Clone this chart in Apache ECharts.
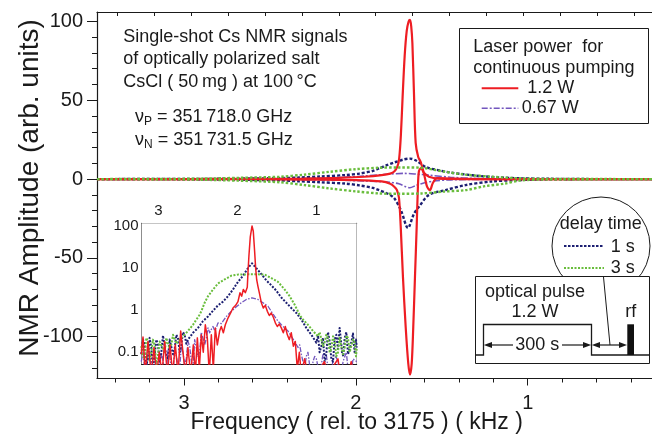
<!DOCTYPE html>
<html><head><meta charset="utf-8">
<script src="https://cdn.jsdelivr.net/npm/echarts/dist/echarts.min.js"></script>
<style>html,body{margin:0;padding:0;background:#fff}#c{width:652px;height:437px}</style>
</head><body><div id="c"></div><script>
// ---------- main plot data: [frequency kHz, amplitude] ----------
const redUp = [[3.506,0],[2.6,0.1],[2.3,0.3],[2.1,0.8],[1.95,1.5],[1.85,2.5],[1.8,3.5],[1.775,5],[1.758,8],[1.748,13],[1.738,28],[1.728,52],[1.716,78],[1.704,94],[1.693,100],[1.685,101],[1.678,97],[1.671,86],[1.662,55],[1.652,23],[1.637,14],[1.623,11],[1.604,3.6],[1.585,-5],[1.569,-7],[1.552,-2.5],[1.527,0.6],[1.45,0.3],[1.2,0],[0.277,0]];
const redDown = [[3.506,0],[2.6,-0.1],[2.3,-0.3],[2.0,-0.6],[1.85,-1.5],[1.8,-3],[1.775,-5],[1.761,-7],[1.749,-12],[1.739,-30],[1.726,-62],[1.71,-94],[1.695,-117],[1.685,-124],[1.675,-117],[1.666,-94],[1.656,-62],[1.646,-30],[1.639,-5],[1.633,5],[1.621,7],[1.604,4],[1.575,1.5],[1.517,0.3],[1.3,0],[0.277,0]];
const navyUp = [[3.506,0],[2.9,0.1],[2.7,0.3],[2.445,0.6],[2.33,1],[2.21,1.6],[2.056,2.6],[1.98,3.5],[1.9,5.2],[1.865,6.8],[1.82,8.8],[1.778,10.5],[1.72,12.5],[1.685,13],[1.645,11.5],[1.592,7.6],[1.517,5.6],[1.442,4],[1.36,2.9],[1.285,2],[1.17,1.1],[1.053,0.5],[0.88,0.2],[0.6,0],[0.277,0]];
const navyDown = [[3.506,0],[2.9,-0.1],[2.7,-0.4],[2.445,-0.8],[2.33,-1.4],[2.21,-2],[2.056,-2.9],[1.98,-4],[1.9,-5.6],[1.865,-7],[1.82,-9],[1.778,-12],[1.737,-20],[1.697,-31],[1.662,-22],[1.633,-17.6],[1.575,-10],[1.478,-7],[1.362,-3.8],[1.21,-1.5],[1.053,-0.6],[0.88,-0.2],[0.6,0],[0.277,0]];
const greenUp = [[3.506,0],[3.1,0.1],[2.9,0.3],[2.68,0.8],[2.445,1.5],[2.3,2.8],[2.155,4.6],[2.0,6.3],[1.865,7.2],[1.75,7.4],[1.616,7.2],[1.55,6],[1.478,4.6],[1.362,2.8],[1.21,1.5],[1.053,0.5],[0.88,0.1],[0.277,0]];
const greenDown = [[3.506,0],[3.1,-0.1],[2.9,-0.4],[2.68,-1],[2.445,-2],[2.3,-3.8],[2.155,-5.9],[2.0,-7.8],[1.865,-9.1],[1.75,-9.3],[1.616,-9.1],[1.5,-8],[1.362,-7],[1.25,-4.5],[1.13,-2.8],[1.053,-1],[0.88,-0.2],[0.277,0]];
const purpleUp = [[3.506,0],[2.4,0.3],[2.1,1],[1.95,2],[1.8,3.2],[1.72,3.6],[1.65,3.2],[1.575,2.5],[1.45,1.2],[1.3,0.4],[1.1,0],[0.277,0]];
const purpleDown = [[3.506,0],[2.4,-0.2],[2.1,-0.7],[1.95,-1.2],[1.8,-2],[1.75,-3],[1.71,-4.8],[1.685,-5.5],[1.65,-4],[1.605,-2.5],[1.545,-1.2],[1.45,-0.5],[1.2,-0.1],[0.277,0]];

// ---------- inset data (log magnitude) ----------
const insetRed = [[3.218,0.09],[3.196,0.23],[3.167,0.03],[3.133,0.18],[3.091,0.03],[3.057,0.13],[3.023,0.03],[2.99,0.1],[2.956,0.03],[2.922,0.18],[2.888,0.03],[2.854,0.15],[2.821,0.03],[2.787,0.15],[2.753,0.03],[2.719,0.32],[2.69,0.1],[2.66,0.03],[2.627,0.13],[2.593,0.03],[2.559,0.15],[2.534,0.03],[2.508,0.22],[2.483,0.04],[2.458,0.26],[2.433,0.1],[2.407,0.45],[2.382,0.22],[2.357,0.03],[2.331,0.26],[2.306,0.04],[2.281,0.38],[2.255,0.15],[2.226,0.32],[2.205,0.41],[2.179,0.29],[2.154,0.45],[2.12,0.65],[2.087,0.86],[2.057,1.13],[2.023,1.3],[1.994,1.6],[1.968,2.6],[1.947,2.15],[1.926,3.1],[1.901,2.6],[1.876,3.5],[1.867,8],[1.855,20],[1.838,55],[1.816,100],[1.8,75],[1.783,25],[1.77,10],[1.757,5.3],[1.741,3.7],[1.72,2.4],[1.698,1.5],[1.673,1.13],[1.648,1.3],[1.622,0.94],[1.597,0.75],[1.572,0.86],[1.546,0.68],[1.521,0.5],[1.496,0.41],[1.471,0.47],[1.445,0.38],[1.42,0.29],[1.395,0.41],[1.369,0.26],[1.344,0.2],[1.319,0.29],[1.293,0.14],[1.268,0.18],[1.243,0.04],[1.217,0.1],[1.192,0.03],[1.15,0.07],[1.11,0.03],[1.0,0.03],[0.9,0.06],[0.85,0.03],[0.728,0.07],[0.7,0.03],[0.6,0.03],[0.56,0.06],[0.53,0.03],[0.49,0.03]];
const insetNavy = [[3.218,0.09],[3.196,0.2],[3.175,0.15],[3.154,0.05],[3.133,0.07],[3.112,0.22],[3.091,0.13],[3.07,0.04],[3.049,0.04],[3.027,0.2],[3.006,0.15],[2.985,0.06],[2.964,0.1],[2.943,0.25],[2.922,0.24],[2.901,0.08],[2.88,0.07],[2.859,0.2],[2.838,0.18],[2.816,0.09],[2.795,0.12],[2.774,0.26],[2.753,0.22],[2.732,0.1],[2.711,0.15],[2.69,0.3],[2.669,0.26],[2.648,0.16],[2.627,0.2],[2.563,0.29],[2.5,0.38],[2.437,0.55],[2.373,0.71],[2.31,0.97],[2.247,1.3],[2.183,1.6],[2.12,2.15],[2.057,3.1],[1.994,4.7],[1.93,6.6],[1.867,10],[1.816,13],[1.762,10],[1.698,7.2],[1.635,5.1],[1.572,3.9],[1.508,2.9],[1.445,2.0],[1.382,1.5],[1.319,1.13],[1.255,0.86],[1.192,0.6],[1.129,0.38],[1.065,0.26],[1.002,0.17],[0.981,0.25],[0.96,0.1],[0.939,0.14],[0.918,0.22],[0.897,0.06],[0.876,0.09],[0.854,0.3],[0.833,0.18],[0.812,0.07],[0.791,0.06],[0.77,0.2],[0.749,0.26],[0.728,0.12],[0.707,0.38],[0.685,0.15],[0.677,0.1],[0.66,0.08],[0.643,0.22],[0.622,0.3],[0.601,0.09],[0.58,0.12],[0.559,0.17],[0.538,0.28],[0.517,0.1],[0.5,0.2],[0.49,0.13]];
const insetGreen = [[3.218,0.14],[3.196,0.08],[3.175,0.07],[3.154,0.22],[3.133,0.18],[3.112,0.06],[3.091,0.1],[3.07,0.2],[3.049,0.15],[3.027,0.05],[3.006,0.09],[2.985,0.18],[2.964,0.17],[2.943,0.12],[2.922,0.1],[2.901,0.22],[2.88,0.2],[2.859,0.12],[2.838,0.15],[2.816,0.26],[2.795,0.24],[2.774,0.16],[2.753,0.18],[2.69,0.24],[2.627,0.32],[2.563,0.45],[2.521,0.6],[2.492,0.71],[2.458,0.94],[2.416,1.5],[2.373,2.15],[2.31,3.1],[2.247,4.3],[2.162,5.4],[2.078,6.6],[1.994,7.0],[1.867,7.1],[1.741,7.1],[1.656,7.0],[1.572,5.8],[1.487,4.7],[1.403,3.1],[1.34,2.15],[1.276,1.35],[1.213,0.77],[1.171,0.6],[1.108,0.45],[1.044,0.32],[0.981,0.24],[0.96,0.3],[0.939,0.29],[0.918,0.14],[0.897,0.17],[0.876,0.26],[0.854,0.22],[0.833,0.1],[0.812,0.12],[0.791,0.24],[0.77,0.18],[0.749,0.08],[0.728,0.1],[0.707,0.22],[0.685,0.2],[0.664,0.09],[0.643,0.13],[0.622,0.25],[0.601,0.22],[0.58,0.1],[0.559,0.1],[0.538,0.2],[0.517,0.17],[0.5,0.08],[0.49,0.12]];
const insetPurple = [[3.218,0.06],[3.196,0.1],[3.175,0.04],[3.154,0.03],[3.133,0.09],[3.112,0.11],[3.091,0.04],[3.07,0.03],[3.049,0.08],[3.027,0.08],[3.006,0.03],[2.985,0.04],[2.964,0.1],[2.943,0.1],[2.922,0.04],[2.901,0.03],[2.88,0.11],[2.859,0.09],[2.838,0.04],[2.816,0.03],[2.795,0.13],[2.774,0.12],[2.753,0.05],[2.732,0.04],[2.711,0.14],[2.69,0.1],[2.669,0.05],[2.648,0.07],[2.627,0.18],[2.605,0.14],[2.584,0.06],[2.563,0.04],[2.542,0.2],[2.521,0.18],[2.5,0.08],[2.479,0.1],[2.458,0.3],[2.437,0.29],[2.415,0.15],[2.394,0.22],[2.373,0.38],[2.352,0.29],[2.331,0.35],[2.31,0.41],[2.289,0.33],[2.268,0.38],[2.247,0.5],[2.226,0.45],[2.205,0.48],[2.183,0.55],[2.141,0.71],[2.078,0.94],[2.015,1.2],[1.951,1.5],[1.888,1.8],[1.816,1.95],[1.741,1.8],[1.677,1.5],[1.614,1.24],[1.572,0.94],[1.53,0.71],[1.487,0.55],[1.445,0.45],[1.403,0.38],[1.361,0.32],[1.319,0.24],[1.276,0.18],[1.234,0.13],[1.213,0.15],[1.192,0.09],[1.171,0.06],[1.15,0.04],[1.129,0.08],[1.108,0.1],[1.087,0.05],[1.065,0.03],[1.044,0.06],[1.023,0.08],[1.002,0.07],[0.96,0.03],[0.939,0.05],[0.918,0.09],[0.876,0.09],[0.854,0.04],[0.812,0.03],[0.791,0.07],[0.749,0.08],[0.728,0.04],[0.685,0.03],[0.664,0.06],[0.622,0.1],[0.601,0.04],[0.559,0.03],[0.538,0.07],[0.49,0.06]];

// ---------- ticks / labels ----------
const xMajor = [1, 2, 3];
const xMinor = [0.4,0.6,0.8,1.2,1.4,1.6,1.8,2.2,2.4,2.6,2.8,3.2,3.4];
const xTop = [3.386,3.172,2.957,2.743,2.528,2.314,2.099,1.885,1.670,1.456,1.241,1.027,0.812,0.598,0.383];
const yMajor = [-100,-50,0,50,100];
const yMinor = [-120,-110,-90,-80,-70,-60,-40,-30,-20,-10,10,20,30,40,60,70,80,90];
const insetXLabels = [1, 2, 3];
const insetXTicks = [0.6,0.8,1.0,1.2,1.4,1.6,1.8,2.0,2.2,2.4,2.6,2.8,3.0,3.2];
const insetYMajor = [0.1, 1, 10, 100];
const insetYMinor = [0.06,0.07,0.08,0.09,0.2,0.3,0.4,0.5,0.6,0.7,0.8,0.9,2,3,4,5,6,7,8,9,20,30,40,50,60,70,80,90];

const FONT = 'Liberation Sans, Arial, Helvetica, sans-serif';
const INK = '#1a1a1a';
const C_RED = '#ee1d23', C_NAVY = '#1c1f72', C_GREEN = '#69bd3c', C_PURPLE = '#7356be';

function T(x, y, text, size, align) {
  return {type:'text', x:x, y:y, z:100, style:{text:text, fontSize:size, fontFamily:FONT, fill:INK,
    textAlign:align||'left', textVerticalAlign:'middle', align:align||'left', verticalAlign:'middle'}};
}
function L(x1,y1,x2,y2,color,w,dash){
  return {type:'line', z:100, shape:{x1:x1,y1:y1,x2:x2,y2:y2}, style:{stroke:color||INK, lineWidth:w||1, lineDash:dash||null}};
}
function P(points){ return {type:'polygon', z:101, shape:{points:points}, style:{fill:INK}}; }
function sub(x, y, main, s, rest){
  return {type:'text', x:x, y:y, z:100, style:{text:'{a|'+main+'}{b|'+s+'}{a|'+rest+'}',
    textAlign:'left', textVerticalAlign:'middle', align:'left', verticalAlign:'middle',
    rich:{a:{fontSize:18, fontFamily:FONT, fill:INK, lineHeight:22, verticalAlign:'middle'},
          b:{fontSize:12, fontFamily:FONT, fill:INK, lineHeight:12, verticalAlign:'bottom'}}}};
}

const axisLineMain = {show:true, onZero:false, lineStyle:{color:INK, width:1.2}};
const axisLineThin = {show:true, onZero:false, lineStyle:{color:INK, width:1}};
const noLine = {show:false, onZero:false};
function mainSeries(data, color, width, type, z){
  return {type:'line', data:data, xAxisIndex:0, yAxisIndex:0, symbol:'none', smooth:0.3, z:z,
    lineStyle:{color:color, width:width, type:type}, animation:false};
}
function insetSeries(data, color, width, type, z){
  return {type:'line', data:data, xAxisIndex:3, yAxisIndex:2, symbol:'none', smooth:false, z:z,
    lineStyle:{color:color, width:width, type:type, join:'round'}, animation:false};
}

const chart = echarts.init(document.getElementById('c'), null, {renderer:'canvas'});
chart.setOption({
  animation:false,
  backgroundColor:'#fff',
  textStyle:{fontFamily:FONT},
  grid:[
    {left:97, top:12, width:557, height:366.5},
    {left:141.5, top:223.3, width:215.2, height:140.7, show:true, backgroundColor:'#fff', borderWidth:0, z:5}
  ],
  xAxis:[
    {gridIndex:0, type:'value', inverse:true, min:0.277, max:3.506, position:'bottom',
     axisLine:axisLineMain, splitLine:{show:false},
     axisTick:{show:true, inside:false, length:7, customValues:xMajor, lineStyle:{color:INK}},
     axisLabel:{customValues:xMajor, fontSize:20, color:INK, margin:15, fontFamily:FONT}},
    {gridIndex:0, type:'value', inverse:true, min:0.277, max:3.506, position:'bottom',
     axisLine:noLine, splitLine:{show:false},
     axisTick:{show:true, inside:false, length:4, customValues:xMinor, lineStyle:{color:INK}},
     axisLabel:{show:false}},
    {gridIndex:0, type:'value', inverse:true, min:0.277, max:3.506, position:'top',
     axisLine:axisLineMain, splitLine:{show:false},
     axisTick:{show:true, inside:true, length:4, customValues:xTop, lineStyle:{color:INK}},
     axisLabel:{show:false}},
    {gridIndex:1, type:'value', inverse:true, min:0.491, max:3.215, position:'top',
     axisLine:axisLineThin, splitLine:{show:false},
     axisTick:{show:true, inside:true, length:3, customValues:insetXTicks, lineStyle:{color:INK}},
     axisLabel:{customValues:insetXLabels, fontSize:15, color:INK, margin:5, fontFamily:FONT}},
    {gridIndex:1, type:'value', inverse:true, min:0.491, max:3.215, position:'bottom',
     axisLine:axisLineThin, splitLine:{show:false},
     axisTick:{show:true, inside:true, length:3, customValues:insetXTicks, lineStyle:{color:INK}},
     axisLabel:{show:false}}
  ],
  yAxis:[
    {gridIndex:0, type:'value', min:-126.5, max:106, position:'left',
     axisLine:axisLineMain, splitLine:{show:false},
     axisTick:{show:true, inside:false, length:10, customValues:yMajor, lineStyle:{color:INK}},
     axisLabel:{customValues:yMajor, fontSize:20, color:INK, margin:14, fontFamily:FONT}},
    {gridIndex:0, type:'value', min:-126.5, max:106, position:'left',
     axisLine:noLine, splitLine:{show:false},
     axisTick:{show:true, inside:false, length:5, customValues:yMinor, lineStyle:{color:INK}},
     axisLabel:{show:false}},
    {gridIndex:1, type:'log', logBase:10, min:0.0527, max:115.9, position:'left',
     axisLine:axisLineThin, splitLine:{show:false},
     axisTick:{show:true, inside:true, length:5, customValues:insetYMajor, lineStyle:{color:INK}},
     axisLabel:{customValues:insetYMajor, fontSize:15, color:INK, margin:3, fontFamily:FONT,
       formatter:function(v){ return String(v); }}},
    {gridIndex:1, type:'log', logBase:10, min:0.0527, max:115.9, position:'left',
     axisLine:noLine, splitLine:{show:false},
     axisTick:{show:true, inside:true, length:3, customValues:insetYMinor, lineStyle:{color:INK}},
     axisLabel:{show:false}},
    {gridIndex:1, type:'log', logBase:10, min:0.0527, max:115.9, position:'right',
     axisLine:axisLineThin, splitLine:{show:false},
     axisTick:{show:true, inside:true, length:5, customValues:insetYMajor, lineStyle:{color:INK}},
     axisLabel:{show:false}},
    {gridIndex:1, type:'log', logBase:10, min:0.0527, max:115.9, position:'right',
     axisLine:noLine, splitLine:{show:false},
     axisTick:{show:true, inside:true, length:3, customValues:insetYMinor, lineStyle:{color:INK}},
     axisLabel:{show:false}}
  ],
  series:[
    mainSeries(purpleUp, C_PURPLE, 1.6, [7,2,2,2], 2),
    mainSeries(purpleDown, C_PURPLE, 1.6, [7,2,2,2], 2),
    mainSeries(navyUp, C_NAVY, 2.4, [3,2], 3),
    mainSeries(navyDown, C_NAVY, 2.4, [3,2], 3),
    mainSeries(redUp, C_RED, 2.2, 'solid', 4),
    mainSeries(redDown, C_RED, 2.2, 'solid', 4),
    mainSeries(greenUp, C_GREEN, 2.4, [2.5,2], 5),
    mainSeries(greenDown, C_GREEN, 2.4, [2.5,2], 5),
    insetSeries(insetPurple, C_PURPLE, 1.3, [5,1.5,1.5,1.5], 10),
    insetSeries(insetNavy, C_NAVY, 2, [2,1.5], 11),
    insetSeries(insetGreen, C_GREEN, 2, [2,1.5], 11),
    insetSeries(insetRed, C_RED, 1.5, 'solid', 12)
  ],
  graphic:{elements:[
    T(356.7, 423, 'Frequency ( rel. to 3175 ) ( kHz )', 23, 'center'),
    Object.assign(T(30, 188, 'NMR Amplitude (arb. units)', 28, 'center'), {rotation:Math.PI/2}),
    T(123.3, 36.7, 'Single-shot Cs NMR signals', 18),
    T(123.3, 59.3, 'of optically polarized salt', 18),
    T(123.3, 81.7, 'CsCl ( 50\u2009mg ) at 100\u2009\u00B0C', 18),
    sub(135, 116.7, '\u03BD', 'P', ' = 351\u2009718.0 GHz'),
    sub(135, 140, '\u03BD', 'N', ' = 351\u2009731.5 GHz'),
    {type:'rect', z:99, shape:{x:459.5, y:28.5, width:189, height:95}, style:{fill:'#fff', stroke:INK, lineWidth:1}},
    T(473.3, 46.7, 'Laser power  for', 18),
    T(473.3, 68.3, 'continuous pumping', 18),
    L(481.7, 88.3, 518.3, 88.3, C_RED, 2),
    T(527.3, 88.3, '1.2 W', 18),
    L(481.7, 108.3, 518.3, 108.3, C_PURPLE, 1.4, [6,2,2,2]),
    T(521.7, 108.3, '0.67 W', 18),
    {type:'circle', z:98, shape:{cx:601, cy:246, r:49}, style:{fill:'#fff', stroke:INK, lineWidth:1}},
    T(600.7, 224.3, 'delay time', 18, 'center'),
    L(564, 246, 604, 246, C_NAVY, 2, [2.5,1.5]),
    T(610.7, 246.7, '1 s', 18),
    L(564, 268, 604, 268, C_GREEN, 2, [2,1.5]),
    T(610.7, 268.3, '3 s', 18),
    {type:'rect', z:99, shape:{x:475.5, y:276.5, width:174, height:87}, style:{fill:'#fff', stroke:INK, lineWidth:1}},
    {type:'polyline', z:100, shape:{points:[[475.5,355],[483.5,355],[483.5,324.5],[591.5,324.5],[591.5,355],[649.5,355]]}, style:{stroke:INK, lineWidth:1.3, fill:null}},
    {type:'rect', z:100, shape:{x:627.3, y:324.3, width:6.7, height:30.7}, style:{fill:'#111'}},
    T(535, 291.7, 'optical pulse', 18, 'center'),
    T(535, 312.3, '1.2 W', 18, 'center'),
    T(630.7, 312.3, 'rf', 18, 'center'),
    T(537.3, 345, '300 s', 18, 'center'),
    L(490, 345, 513, 345, INK, 1.2),
    L(562, 345, 585, 345, INK, 1.2),
    P([[483.8,345],[492,342],[492,348]]),
    P([[591.2,345],[583,342],[583,348]]),
    L(598, 345, 621, 345, INK, 1.2),
    P([[591.8,345],[600,342],[600,348]]),
    P([[627,345],[619,342],[619,348]]),
    L(603.5, 277, 610, 345, INK, 1)
  ]}
});
</script></body></html>
